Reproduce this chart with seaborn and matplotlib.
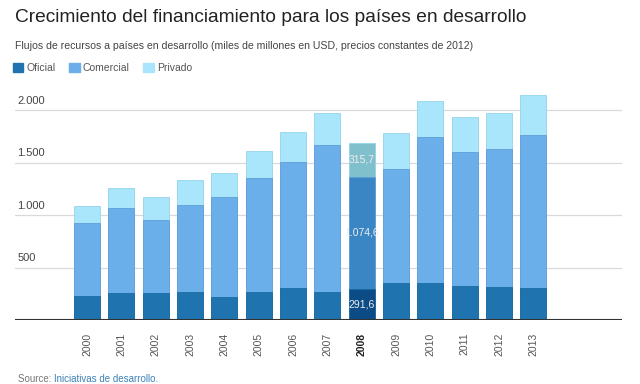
import seaborn as sns
import pandas as pd
import matplotlib.pyplot as plt
from matplotlib.patches import Patch

# data (miles de millones USD)
years = ["2000", "2001", "2002", "2003", "2004", "2005", "2006",
         "2007", "2008", "2009", "2010", "2011", "2012", "2013"]
oficial = [229, 254, 254, 264, 219, 264, 302, 264, 291.6, 355, 355, 321, 311, 302]
comercial = [692, 810, 701, 831, 949, 1085, 1206, 1399, 1074.6, 1080, 1391, 1279, 1315, 1463]
privado = [165, 193, 216, 238, 229, 261, 282, 311, 315.7, 343, 343, 333, 348, 378]

y_ticks = [500, 1000, 1500, 2000]
y_tick_labels = ["500", "1.000", "1.500", "2.000"]
highlight = "2008"
highlight_labels = ["291,6", "1.074,6", "315,7"]

series_names = ["Oficial", "Comercial", "Privado"]
colors = ["#1f74b0", "#6aaeea", "#a9e6fb"]
edge_colors = ["#1b6aa2", "#5e9fd8", "#93d3ea"]
hl_colors = ["#0b4c86", "#3a86c4", "#80bfcc"]


def set_plot_params():
    sns.set_style("white")
    plt.rcParams.update({
        "font.family": ["Liberation Sans", "DejaVu Sans"],
        "figure.dpi": 100,
        "savefig.dpi": 100,
    })


set_plot_params()

df = pd.DataFrame({"year": years, "oficial": oficial,
                   "comercial": comercial, "privado": privado})
df["lvl1"] = df["oficial"]
df["lvl2"] = df["oficial"] + df["comercial"]
df["lvl3"] = df["lvl2"] + df["privado"]

fig = plt.figure(figsize=(6.4, 3.84))
ax = fig.add_axes([15 / 640, 64 / 384, 607 / 640, 231 / 384])

# stacked look: draw the tallest totals first, then lower levels over them
for i, col in reversed(list(enumerate(["lvl1", "lvl2", "lvl3"]))):
    pal = {y: (hl_colors[i] if y == highlight else colors[i]) for y in years}
    sns.barplot(data=df, x="year", y=col, hue="year", palette=pal,
                legend=False, width=0.76, edgecolor=edge_colors[i],
                linewidth=0.6, saturation=1, ax=ax)

ax.set_ylim(0, 2200)
ax.set_xlim(-2.1, 15.58)
ax.set_xlabel("")
ax.set_ylabel("")
ax.set_yticks(y_ticks)
ax.set_yticklabels([])
ax.tick_params(axis="y", length=0)
for t, lab in zip(y_ticks, y_tick_labels):
    ax.axhline(t, color="#d9d9d9", lw=0.9, zorder=0)
    ax.text(0.004, t + 40, lab, transform=ax.get_yaxis_transform(),
            ha="left", va="bottom", fontsize=8, color="#444444")
ax.axhline(0, color="#333333", lw=1.5, zorder=5)
sns.despine(ax=ax, left=True, right=True, top=True, bottom=True)

ax.tick_params(axis="x", length=0, pad=9, labelsize=7.5, labelcolor="#555555")
for lab in ax.get_xticklabels():
    lab.set_rotation(90)
    if lab.get_text() == highlight:
        lab.set_fontweight("bold")
        lab.set_color("#222222")

# value labels on the highlighted bar
hi = years.index(highlight)
row = df.iloc[hi]
mids = [row["oficial"] / 2,
        row["oficial"] + row["comercial"] / 2,
        row["lvl2"] + row["privado"] / 2]
for m, lab in zip(mids, highlight_labels):
    ax.text(hi, m, lab, ha="center", va="center", fontsize=7.5, color="#eeeeee")

fig.text(15 / 640, 1 - 18 / 384,
         "Crecimiento del financiamiento para los países en desarrollo",
         fontsize=13.8, color="#222222", va="center", ha="left")
fig.text(15 / 640, 1 - 46 / 384,
         "Flujos de recursos a países en desarrollo (miles de millones en USD, precios constantes de 2012)",
         fontsize=7.6, color="#444444", va="center", ha="left")

handles = [Patch(facecolor=c, edgecolor=c) for c in colors]
fig.legend(handles, series_names, loc="center left",
           bbox_to_anchor=(13 / 640, 1 - 68 / 384), ncol=3, frameon=False,
           handlelength=1.0, handleheight=1.0, handletextpad=0.3,
           columnspacing=1.3, borderaxespad=0, borderpad=0,
           fontsize=7.5, labelcolor="#555555")

src = fig.text(18 / 640, 1 - 379 / 384, "Source: ", fontsize=7,
               color="#777777", va="center", ha="left")
ax.annotate("Iniciativas de desarrollo.", xy=(1, 0.5), xycoords=src,
            ha="left", va="center", fontsize=7, color="#3b82b8")

fig.savefig("out.png", dpi=100, facecolor="white")
